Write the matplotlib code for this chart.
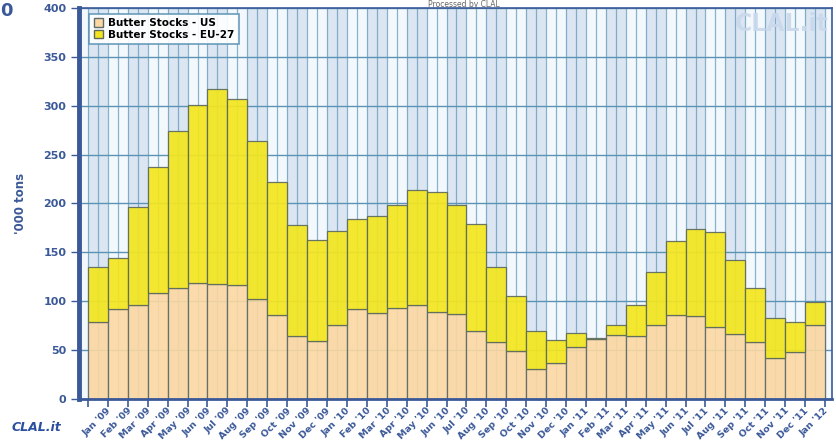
import numpy as np
import matplotlib
matplotlib.use("Agg")
import matplotlib.pyplot as plt
from matplotlib.patches import Patch

# data ('000 tons)
months = ["Jan '09", "Feb '09", "Mar '09", "Apr '09", "May '09", "Jun '09", "Jul '09",
          "Aug '09", "Sep '09", "Oct '09", "Nov '09", "Dec '09",
          "Jan '10", "Feb '10", "Mar '10", "Apr '10", "May '10", "Jun '10", "Jul '10",
          "Aug '10", "Sep '10", "Oct '10", "Nov '10", "Dec '10",
          "Jan '11", "Feb '11", "Mar '11", "Apr '11", "May '11", "Jun '11", "Jul '11",
          "Aug '11", "Sep '11", "Oct '11", "Nov '11", "Dec '11", "Jan '12"]
us_stocks = [79, 92, 96, 108, 114, 119, 118, 117, 102, 86, 64, 59,
             76, 92, 88, 93, 96, 89, 87, 70, 58, 49, 31, 37,
             53, 61, 65, 64, 76, 86, 85, 74, 67, 58, 42, 48, 76]
eu_stocks = [56, 52, 100, 129, 160, 182, 199, 190, 162, 136, 114, 104,
             96, 92, 99, 105, 118, 123, 111, 109, 77, 56, 39, 23,
             15, 1, 11, 32, 54, 76, 89, 97, 75, 56, 41, 31, 23]
y_ticks = [0, 50, 100, 150, 200, 250, 300, 350, 400]

BLUE = "#3b5998"
GRID = "#5b93b5"
US_COL = "#fdd8a2"
EU_COL = "#f4e61e"

fig = plt.figure(figsize=(8.36, 4.41), dpi=100)
ax = fig.add_axes([0.0945, 0.0952, 0.9007, 0.8867])

x = np.arange(len(months))
ax.set_facecolor("#f3f8fd")
for i in x[::2]:
    ax.axvspan(i - 0.5, i + 0.5, color="#dbe6f2", zorder=0, lw=0)
ax.vlines(np.arange(-0.5, len(months), 0.5), 0, 400, color=GRID, lw=0.9, alpha=0.7, zorder=1)
for v in y_ticks[1:]:
    ax.axhline(v, color=GRID, lw=1.0, zorder=1)

ax.bar(x, us_stocks, width=1.0, color=US_COL, edgecolor="#5d6b6b", lw=0.9,
       alpha=0.9, zorder=2)
ax.bar(x, eu_stocks, width=1.0, bottom=us_stocks, color=EU_COL, edgecolor="#5d6b5d",
       lw=0.9, alpha=0.92, zorder=2)

ax.set_xlim(-0.95, len(months) - 0.15)
ax.set_ylim(0, 400)
ax.set_yticks(y_ticks)
ax.set_yticklabels([str(v) for v in y_ticks], color=BLUE, fontsize=8, fontweight="bold")
ax.tick_params(axis="y", length=6, width=1, color=BLUE, pad=3)

ax.set_xticks(x + 0.45)
ax.set_xticklabels(months, rotation=45, ha="right", rotation_mode="anchor",
                   color=BLUE, fontsize=6.8, fontweight="bold")
ax.tick_params(axis="x", which="major", length=0, pad=5)
ax.set_xticks(np.arange(-0.5, len(months)), minor=True)
ax.tick_params(axis="x", which="minor", length=6, width=1.2, color=BLUE)

for side in ["top", "right"]:
    ax.spines[side].set_color(BLUE)
    ax.spines[side].set_linewidth(1.2)
ax.spines["left"].set_color(BLUE)
ax.spines["left"].set_linewidth(3.5)
ax.spines["bottom"].set_color(BLUE)
ax.spines["bottom"].set_linewidth(2)

ax.set_ylabel("'000 tons", color=BLUE, fontsize=8.5, fontweight="bold", labelpad=12)

handles = [Patch(facecolor=US_COL, edgecolor="#5d6b6b", label="Butter Stocks - US"),
           Patch(facecolor=EU_COL, edgecolor="#5d6b5d", label="Butter Stocks - EU-27")]
leg = ax.legend(handles=handles, loc="upper left", bbox_to_anchor=(0.007, 0.998),
                prop={"weight": "bold", "size": 7.5}, handlelength=0.9, handleheight=0.9,
                handletextpad=0.5, borderpad=0.4, labelspacing=0.15, fancybox=False,
                framealpha=0.9)
leg.get_frame().set_edgecolor(GRID)
leg.get_frame().set_linewidth(1.2)
leg.set_zorder(5)

# watermark and header text
fig.text(0.935, 0.945, "CLAL.it", color="#c9d8ec", fontsize=17, fontweight="bold",
         ha="center", va="center", alpha=0.9, zorder=10)
fig.text(0.555, 0.999, "Processed by CLAL", color="#666666", fontsize=5.5,
         ha="center", va="top")
fig.text(0.0, 0.975, "0", color=BLUE, fontsize=13, fontweight="bold", ha="left", va="center")
fig.text(0.043, 0.03, "CLAL.it", color="#2b4fa0", fontsize=9, fontweight="bold",
         style="italic", ha="center", va="center")

fig.savefig("out.png", dpi=100)
